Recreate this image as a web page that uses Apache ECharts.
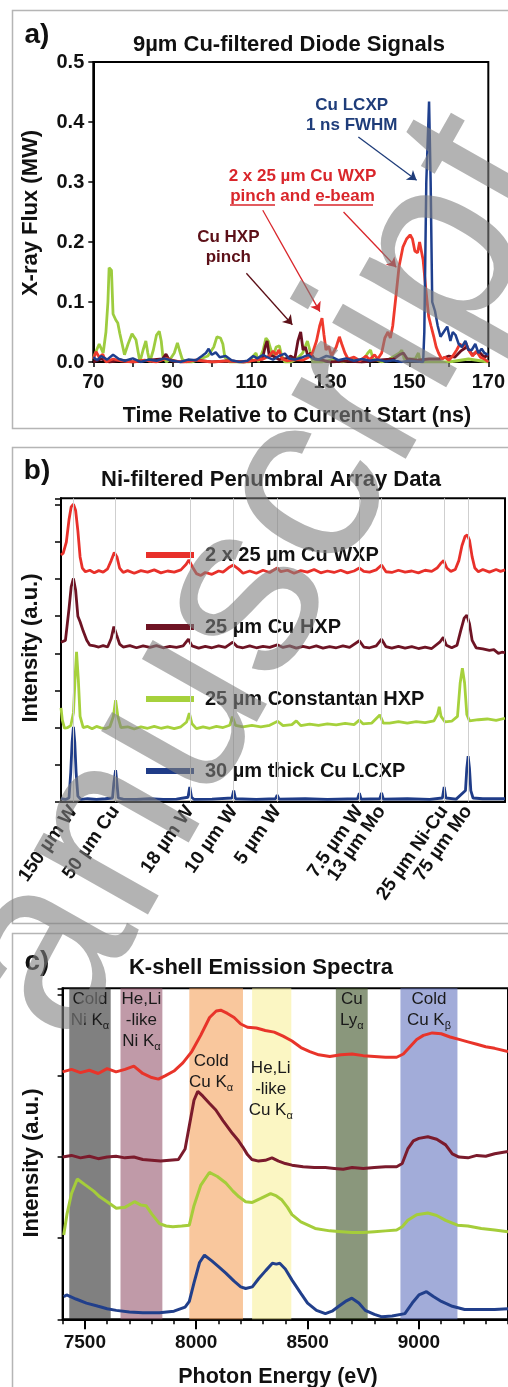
<!DOCTYPE html>
<html>
<head>
<meta charset="utf-8">
<script src="https://cdn.jsdelivr.net/npm/echarts@6/dist/echarts.min.js"></script>
<style>
  html, body { margin: 0; padding: 0; background: #fff; }
  #chart { width: 508px; height: 1387px; }
</style>
</head>
<body>
<div id="chart"></div>
<script>
// ---- panel a: diode signals, [time ns, flux MW]
var aGreen = [[70,0.005],[70.5,0.015],[71.5,0.03],[72.5,0.015],[73.2,0.05],[73.7,0.1],[74,0.157],[74.6,0.153],[75,0.08],[75.7,0.07],[76.2,0.065],[76.7,0.048],[77.3,0.03],[77.9,0.012],[78.8,0.03],[79.8,0.047],[80.8,0.037],[81.4,0.015],[81.8,0.0],[82.6,0.02],[83.3,0.035],[83.8,0.015],[84.3,0.0],[85.2,0.02],[86,0.045],[86.7,0.051],[87.2,0.035],[87.6,0.01],[88.5,0.0],[89.5,0.005],[90.5,0.015],[91.3,0.032],[91.8,0.02],[92.5,0.005],[93.5,0.0],[95,0.0],[97,0.005],[99,0.01],[100.5,0.025],[101.3,0.042],[102.2,0.04],[102.8,0.03],[103.3,0.008],[104.5,0.0],[106,0.0],[108,0.0],[109.5,0.0],[110.5,0.01],[111.2,0.015],[111.8,0.0],[113,0.02],[113.7,0.04],[114.3,0.035],[114.9,0.022],[115.5,0.01],[116.3,0.025],[117.1,0.027],[117.7,0.01],[118.5,0.0],[120,0.0],[121.5,0.005],[123,0.015],[124.2,0.035],[124.8,0.02],[125.5,0.0],[128,0.0],[131,0.005],[133,0.0],[136,0.005],[138,0.0],[139.5,0.015],[140.2,0.02],[140.8,0.005],[143,0.0],[145,0.005],[147.5,0.015],[148.1,0.02],[148.7,0.005],[151.5,0.005],[152.3,0.015],[152.8,0.0],[156,0.0],[160,0.0],[165,0.005],[170,0.0]];
var aDarkRed = [[70,0.0],[72,0.005],[74,0.0],[77,0.003],[80,0.0],[84,0.003],[87.5,0.005],[88.4,0.013],[89.2,0.004],[92,0.0],[96,0.003],[100,0.0],[104,0.002],[108,0.0],[111,0.003],[112.8,0.005],[113.5,0.025],[114,0.035],[114.5,0.012],[115.5,0.01],[117,0.004],[119,0.006],[120,0.01],[121,0.005],[121.8,0.035],[122.5,0.05],[123.1,0.02],[123.7,0.025],[124.3,0.01],[125,0.015],[126,0.005],[128,0.003],[130,0.0],[134,0.002],[138,0.0],[142,0.003],[146,0.005],[147.5,0.012],[148.5,0.015],[149.5,0.005],[152,0.003],[155,0.005],[158,0.005],[160,0.01],[161.5,0.008],[163,0.018],[164.5,0.025],[166,0.012],[167.5,0.018],[169,0.008],[170,0.012]];
var aRed = [[70,0.005],[70.7,0.017],[71.5,0.008],[72.4,0.013],[73.2,0.0],[75,0.005],[77,0.002],[80,0.0],[83,0.003],[86,0.0],[88.5,0.006],[90,0.002],[93,0.0],[96,0.003],[100,0.0],[104,0.002],[108,0.0],[111,0.003],[113,0.005],[114.5,0.01],[115.5,0.018],[116.3,0.012],[117,0.02],[117.8,0.005],[119,0.002],[121,0.004],[123,0.003],[124.5,0.008],[125.5,0.015],[126.5,0.035],[127.3,0.06],[127.9,0.073],[128.4,0.045],[128.9,0.02],[129.6,0.026],[130.3,0.01],[131.5,0.025],[132.3,0.042],[132.9,0.03],[133.7,0.015],[134.5,0.005],[136,0.008],[137.5,0.002],[139,0.01],[140,0.004],[141.2,0.012],[142,0.005],[143,0.015],[143.8,0.04],[144.6,0.05],[145.2,0.04],[145.8,0.06],[146.7,0.115],[147.4,0.159],[148.4,0.192],[149.3,0.205],[150.2,0.212],[150.8,0.205],[151.4,0.185],[152.1,0.182],[152.6,0.2],[153,0.203],[153.5,0.17],[154.2,0.12],[154.9,0.076],[155.5,0.06],[156.2,0.042],[156.8,0.025],[157.4,0.015],[158.2,0.005],[159,0.008],[160,0.003],[161,0.01],[162,0.02],[162.8,0.03],[163.5,0.025],[164.3,0.032],[165,0.02],[166,0.01],[167,0.018],[168,0.008],[169,0.005],[170,0.0]];
var aBlue = [[70,0.008],[71,0.003],[72,0.01],[73.5,0.004],[75,0.012],[76.5,0.005],[78,0.002],[80,0.006],[82,0.0],[84,0.004],[86,0.002],[88,0.006],[90,0.002],[92,0.0],[94,0.004],[96,0.003],[97.5,0.01],[98.5,0.015],[99.2,0.022],[100,0.012],[101,0.016],[102,0.008],[103.5,0.01],[105,0.003],[107,0.0],[109,0.002],[110.5,0.01],[111.5,0.006],[113,0.012],[114,0.008],[115.5,0.004],[117,0.01],[118.5,0.014],[119.5,0.006],[121,0.004],[123,0.008],[124.5,0.012],[125.5,0.006],[127,0.004],[129,0.01],[130.5,0.008],[132,0.003],[134,0.006],[136,0.002],[138,0.005],[140,0.002],[142,0.004],[144,0.001],[146,0.003],[148,0.0],[150,0.002],[152,0.001],[153.5,0.0],[153.8,0.05],[154.3,0.3],[155.0,0.434],[155.4,0.3],[155.8,0.1],[156.5,0.085],[157.2,0.06],[157.9,0.042],[158.7,0.05],[159.6,0.059],[160.4,0.035],[161,0.05],[161.7,0.045],[162.5,0.03],[163.3,0.025],[164.2,0.035],[165,0.02],[165.8,0.02],[166.7,0.03],[167.5,0.015],[168.3,0.022],[169,0.015],[170,0.012]];

// ---- panel b: penumbral array lineouts, [position, offset intensity]
var bNames = ['2 x 25 µm Cu WXP', '25 µm Cu HXP', '25 µm Constantan HXP', '30 µm thick Cu LCXP'];
var bFilterPos = [2.8, 12.3, 29.0, 38.9, 48.7, 67.2, 72.2, 86.3, 91.7];
var bFilterLabels = ['150 µm W', '50 µm Cu', '18 µm W', '10 µm W', '5 µm W', '7.5 µm W', '13 µm Mo', '25 µm Ni-Cu', '75 µm Mo'];
var bRed = [[0,6.65],[0.5,6.7],[1.2,7.0],[1.8,7.6],[2.3,7.95],[2.8,8.02],[3.3,7.85],[3.8,7.3],[4.3,6.6],[4.8,6.3],[5.5,6.2],[6.5,6.24],[7.5,6.17],[8.5,6.23],[9.5,6.19],[10.5,6.28],[11.3,6.5],[12.0,6.72],[12.6,6.6],[13.2,6.3],[14,6.18],[15,6.23],[16.5,6.16],[18,6.23],[19.5,6.19],[21,6.25],[22.5,6.17],[24,6.22],[25.5,6.19],[27,6.25],[28.2,6.4],[28.8,6.52],[29.5,6.35],[30.5,6.15],[31.5,6.1],[32.5,6.18],[34,6.13],[35.5,6.22],[36.5,6.19],[38,6.33],[38.8,6.38],[40,6.27],[41,6.16],[42.5,6.22],[44,6.16],[45.5,6.24],[47,6.18],[48.7,6.3],[49.5,6.2],[51,6.24],[52.5,6.16],[54,6.23],[55.5,6.19],[57,6.26],[58.5,6.17],[60,6.22],[61.5,6.18],[63,6.24],[64.5,6.17],[66,6.22],[67.2,6.3],[68.2,6.21],[69.5,6.19],[71,6.25],[72.2,6.38],[73.2,6.2],[74.5,6.18],[76,6.24],[77.5,6.19],[79,6.22],[80.5,6.17],[82,6.24],[83.5,6.21],[84.7,6.3],[85.5,6.42],[86.2,6.5],[86.9,6.3],[87.8,6.21],[88.8,6.26],[89.6,6.5],[90.3,6.9],[91,7.15],[91.5,7.19],[92,7.05],[92.6,6.6],[93.2,6.3],[94,6.2],[95,6.26],[96.5,6.19],[98,6.26],[99,6.21],[100,6.25]];
var bDarkRed = [[0,4.3],[1,4.35],[1.8,5.2],[2.3,5.8],[2.8,6.02],[3.3,5.7],[3.8,5.0],[4.3,4.85],[5,4.6],[5.8,4.35],[6.5,4.22],[7.5,4.2],[8.5,4.17],[9.5,4.21],[10.5,4.17],[11.3,4.4],[11.9,4.72],[12.5,4.5],[13.2,4.25],[14,4.17],[15.5,4.21],[17,4.15],[18.5,4.2],[20,4.16],[21.5,4.21],[23,4.15],[24.5,4.19],[26,4.16],[27.5,4.2],[28.7,4.38],[29.5,4.2],[31,4.14],[32.5,4.19],[34,4.15],[35.5,4.2],[37,4.16],[38.7,4.3],[39.7,4.18],[41,4.15],[42.5,4.2],[44,4.15],[45.5,4.19],[47,4.16],[48.7,4.23],[50,4.16],[51.5,4.2],[53,4.14],[54.5,4.19],[56,4.15],[57.5,4.2],[59,4.14],[60.5,4.18],[62,4.15],[63.5,4.2],[65,4.16],[67.2,4.34],[68.2,4.17],[69.5,4.15],[71,4.2],[72.2,4.38],[73.2,4.18],[74.5,4.14],[76,4.19],[77.5,4.14],[79,4.18],[80.5,4.13],[82,4.17],[83.5,4.13],[85.3,4.3],[86.1,4.43],[86.8,4.22],[88,4.15],[89.2,4.22],[90,4.6],[90.8,4.95],[91.4,5.03],[92,4.8],[92.6,4.35],[93.5,4.15],[95,4.12],[96.5,4.08],[97.5,4.1],[98.5,4.0],[99.3,4.03],[100,4.02]];
var bGreen = [[0,2.53],[0.3,2.2],[0.8,1.98],[1.5,2.0],[2.2,2.05],[2.8,2.4],[3.2,3.4],[3.5,4.04],[3.9,3.3],[4.3,2.3],[5,2.0],[6,2.03],[7,1.97],[8,2.03],[9,1.99],[10,1.97],[11,2.02],[11.8,2.3],[12.3,2.74],[12.8,2.3],[13.5,2.0],[15,2.02],[16.5,1.96],[18,2.02],[19.5,1.98],[21,2.03],[22.5,1.98],[24,2.02],[25.5,1.97],[27,2.02],[28.3,2.15],[28.9,2.39],[29.5,2.1],[30.5,1.97],[32,2.02],[33.5,1.98],[35,2.03],[36.5,2.0],[38,2.06],[38.6,2.29],[39.3,2.06],[41,2.02],[43,2.06],[45,2.02],[47,2.06],[48.8,2.17],[50,2.05],[52,2.08],[53,2.18],[54,2.05],[56,2.09],[58,2.06],[60,2.1],[62,2.07],[64,2.11],[66,2.08],[67.2,2.2],[68,2.1],[70,2.12],[71.8,2.34],[72.6,2.12],[74,2.12],[76,2.16],[78,2.12],[80,2.16],[82,2.13],[84,2.18],[84.8,2.35],[85.2,2.56],[85.6,2.3],[86.5,2.15],[88,2.17],[89.3,2.3],[89.9,3.2],[90.4,3.6],[90.9,3.2],[91.4,2.35],[92,2.18],[94,2.21],[96,2.23],[98,2.19],[100,2.25]];
var bBlue = [[0,0.08],[1,0.06],[1.8,0.1],[2.2,0.8],[2.5,1.6],[2.8,2.02],[3.1,1.6],[3.4,0.8],[3.8,0.15],[4.5,0.06],[6,0.08],[8,0.06],[10,0.08],[11.6,0.1],[11.9,0.5],[12.3,0.85],[12.6,0.5],[12.9,0.1],[14,0.07],[17,0.06],[20,0.08],[23,0.06],[26,0.07],[28.6,0.12],[29.0,0.4],[29.4,0.12],[30,0.06],[34,0.07],[38.5,0.1],[38.9,0.3],[39.3,0.08],[44,0.06],[48.3,0.08],[48.7,0.18],[49.1,0.07],[55,0.08],[60,0.06],[66.8,0.08],[67.2,0.23],[67.6,0.07],[71.8,0.08],[72.2,0.24],[72.6,0.07],[78,0.08],[83,0.06],[85.9,0.1],[86.3,0.4],[86.7,0.1],[89,0.07],[91.1,0.3],[91.4,0.9],[91.7,1.23],[92.0,0.9],[92.3,0.3],[92.8,0.1],[95,0.08],[100,0.08]];

// ---- panel c: K-shell spectra, [photon energy eV, offset intensity]
var cRed = [[7400,3.05],[7440,3.08],[7480,3.04],[7520,3.07],[7560,3.03],[7600,3.09],[7640,3.05],[7680,3.08],[7720,3.12],[7760,3.03],[7800,2.98],[7830,2.96],[7860,3.0],[7900,3.06],[7940,3.16],[7980,3.3],[8020,3.5],[8060,3.72],[8090,3.8],[8110,3.81],[8140,3.77],[8170,3.72],[8200,3.64],[8230,3.6],[8270,3.59],[8310,3.56],[8350,3.54],[8390,3.49],[8430,3.43],[8470,3.35],[8510,3.3],[8550,3.26],[8600,3.24],[8650,3.26],[8700,3.27],[8750,3.25],[8800,3.24],[8850,3.23],[8900,3.23],[8930,3.27],[8960,3.36],[8990,3.45],[9020,3.5],[9060,3.53],[9100,3.52],[9140,3.48],[9180,3.45],[9220,3.42],[9260,3.39],[9300,3.36],[9340,3.34],[9400,3.3]];
var cDarkRed = [[7400,2.0],[7440,2.02],[7480,1.99],[7520,2.01],[7560,1.98],[7600,2.0],[7640,2.01],[7680,1.99],[7720,2.0],[7760,1.97],[7800,1.96],[7840,1.95],[7880,1.96],[7920,1.97],[7950,2.1],[7970,2.4],[7990,2.7],[8007,2.81],[8030,2.75],[8060,2.66],[8088,2.58],[8120,2.45],[8163,2.29],[8190,2.2],[8210,2.12],[8230,2.03],[8250,1.97],[8280,1.95],[8310,1.96],[8340,1.99],[8370,1.95],[8400,1.92],[8430,1.9],[8480,1.88],[8530,1.87],[8580,1.87],[8620,1.86],[8660,1.85],[8700,1.87],[8750,1.86],[8800,1.87],[8850,1.88],[8900,1.88],[8925,1.92],[8950,2.1],[8975,2.2],[9000,2.23],[9040,2.25],[9080,2.22],[9120,2.15],[9150,2.04],[9180,2.0],[9220,1.99],[9260,2.02],[9300,2.01],[9340,2.04],[9400,2.07]];
var cGreen = [[7405,1.04],[7420,1.3],[7440,1.55],[7466,1.73],[7500,1.66],[7540,1.58],[7567,1.51],[7600,1.45],[7641,1.37],[7680,1.38],[7723,1.45],[7750,1.41],[7775,1.4],[7800,1.3],[7835,1.18],[7865,1.15],[7895,1.14],[7935,1.15],[7969,1.16],[7990,1.4],[8020,1.65],[8059,1.81],[8095,1.76],[8133,1.68],[8165,1.58],[8192,1.51],[8222,1.45],[8252,1.44],[8290,1.49],[8334,1.55],[8360,1.52],[8385,1.47],[8410,1.38],[8430,1.29],[8470,1.2],[8534,1.12],[8600,1.09],[8653,1.08],[8700,1.07],[8750,1.07],[8800,1.08],[8850,1.09],[8900,1.1],[8925,1.14],[8950,1.22],[8990,1.29],[9040,1.31],[9080,1.28],[9120,1.22],[9173,1.16],[9220,1.15],[9280,1.12],[9340,1.1],[9400,1.08]];
var cBlue = [[7405,0.28],[7418,0.3],[7460,0.25],[7507,0.2],[7560,0.16],[7600,0.13],[7641,0.11],[7700,0.09],[7760,0.08],[7835,0.08],[7900,0.1],[7950,0.15],[7969,0.22],[7990,0.45],[8015,0.7],[8037,0.79],[8070,0.72],[8100,0.65],[8133,0.57],[8170,0.47],[8200,0.4],[8222,0.38],[8252,0.4],[8280,0.5],[8312,0.6],[8342,0.69],[8360,0.68],[8375,0.69],[8400,0.62],[8431,0.48],[8470,0.32],[8500,0.2],[8540,0.11],[8580,0.07],[8610,0.1],[8640,0.16],[8670,0.22],[8699,0.26],[8730,0.2],[8759,0.11],[8800,0.06],[8834,0.03],[8880,0.04],[8937,0.07],[8970,0.2],[9000,0.3],[9034,0.34],[9065,0.28],[9101,0.22],[9150,0.16],[9205,0.12],[9280,0.12],[9340,0.12],[9400,0.13]];

// emission bands [from eV, to eV, label]
var cBands = [
  [7430, 7616, 'Cold\nNi K{s|α}'],
  [7660, 7848, 'He,Li\n-like\nNi K{s|α}'],
  [7969, 8210, 'Cold\nCu K{s|α}'],
  [8251, 8427, 'He,Li\n-like\nCu K{s|α}'],
  [8627, 8770, 'Cu\nLy{s|α}'],
  [8917, 9173, 'Cold\nCu K{s|β}']
];
var cBandColors = ['rgba(43,43,43,0.6)', 'rgba(150,87,110,0.6)', 'rgba(245,162,92,0.6)', 'rgba(248,240,155,0.6)', 'rgba(60,82,37,0.6)', 'rgba(100,117,192,0.6)'];
var cBandLabelDrop = [1, 1, 63, 70, 1, 1];
var cBandLabelShift = [0, 0, -5, -1, 0, 0];

var FONT = 'Liberation Sans, Arial, sans-serif';
var chart = echarts.init(document.getElementById('chart'));

function lineSeries(name, data, color, xi, width, z) {
  return {
    name: name, type: 'line', data: data, xAxisIndex: xi, yAxisIndex: xi,
    showSymbol: false, symbol: 'none', z: z || 2,
    lineStyle: { color: color, width: width || 2.8 },
    itemStyle: { color: color },
    emphasis: { disabled: true }
  };
}

function valueAxis(opt) {
  return Object.assign({
    type: 'value',
    axisLine: { lineStyle: { color: '#000', width: 2 } },
    axisTick: { inside: false, length: 5, lineStyle: { color: '#000', width: 1.5 } },
    axisLabel: { color: '#111', fontFamily: FONT, fontWeight: 'bold', fontSize: 20 },
    splitLine: { show: false }
  }, opt);
}

var arrow = function (from, to, color) {
  return [{ coord: from, lineStyle: { color: color, width: 1.3, type: 'solid' } }, { coord: to }];
};

var series = [
  lineSeries('a green', aGreen, '#9dcc3f', 0),
  lineSeries('a darkred', aDarkRed, '#6b1020', 0),
  lineSeries('a red', aRed, '#ef3a2d', 0),
  lineSeries('a blue', aBlue, '#1e3f8e', 0, 2.5)
];
series[0].markLine = {
  silent: true, symbol: ['none', 'arrow'], symbolSize: 9, animation: false,
  label: { show: false },
  data: [
    arrow([137.1, 0.375], [151.85, 0.303], '#1f3d7a'),
    arrow([112.9, 0.253], [127.35, 0.084], '#d9262b'),
    arrow([133.35, 0.25], [146.7, 0.158], '#d9262b'),
    arrow([108.75, 0.148], [120.4, 0.062], '#5c1018')
  ]
};

series.push({
  name: 'b grid', type: 'line', data: [], xAxisIndex: 1, yAxisIndex: 1, z: 1,
  markLine: {
    silent: true, symbol: 'none', animation: false, label: { show: false },
    lineStyle: { color: '#cfcfcf', width: 1, type: 'solid' },
    data: bFilterPos.map(function (v) { return { xAxis: v }; })
  }
});
series.push(lineSeries(bNames[0], bRed, '#e8302a', 1, 2.8));
series.push(lineSeries(bNames[1], bDarkRed, '#6e1424', 1, 2.8));
series.push(lineSeries(bNames[2], bGreen, '#a6d13c', 1, 2.8));
series.push(lineSeries(bNames[3], bBlue, '#1f3c88', 1, 2.8));

series.push(lineSeries('c red', cRed, '#e8342a', 2, 3));
series.push(lineSeries('c darkred', cDarkRed, '#7b1b2c', 2, 3));
series.push(lineSeries('c green', cGreen, '#a5cd3a', 2, 3));
series.push(lineSeries('c blue', cBlue, '#213f8b', 2, 3));
series.push({
  name: 'c bands', type: 'line', data: [], xAxisIndex: 2, yAxisIndex: 2, z: 5,
  markArea: {
    silent: true, animation: false,
    data: cBands.map(function (b, i) {
      return [{
        xAxis: b[0],
        itemStyle: { color: cBandColors[i] },
        label: {
          show: true, position: 'insideTop', distance: cBandLabelDrop[i], offset: [cBandLabelShift[i], 0],
          formatter: b[2], color: '#1a1a1a', fontFamily: FONT, fontSize: 17, lineHeight: 21, align: 'center',
          rich: { s: { fontSize: 11, lineHeight: 21, verticalAlign: 'bottom', fontFamily: FONT, color: '#1a1a1a' } }
        }
      }, { xAxis: b[1] }];
    })
  }
});

function txt(x, y, text, size, opt) {
  return Object.assign({
    type: 'text', x: x, y: y, z: 100,
    style: { text: text, font: 'bold ' + size + 'px ' + FONT, fill: '#111', textAlign: 'center', textVerticalAlign: 'middle' }
  }, opt || {});
}
function vtxt(x, y, text, size) {
  return txt(x, y, text, size, { rotation: Math.PI / 2 });
}
function panelBox(y, h) {
  return { type: 'rect', shape: { x: 12.5, y: y, width: 520, height: h }, z: 100, style: { fill: 'none', stroke: '#b5b5b5', lineWidth: 1.5 } };
}

var graphics = [
  panelBox(10.5, 418), panelBox(447.5, 476), panelBox(933.5, 480),
  txt(37, 35, 'a)', 28), txt(37, 471, 'b)', 28), txt(37, 962, 'c)', 28),
  txt(289, 45, '9µm Cu-filtered Diode Signals', 22),
  txt(271, 480, 'Ni-filtered Penumbral Array Data', 22),
  txt(261, 968, 'K-shell Emission Spectra', 22),
  vtxt(31, 213, 'X-ray Flux (MW)', 22),
  txt(297, 416, 'Time Relative to Current Start (ns)', 21.5),
  vtxt(31, 648, 'Intensity (a.u.)', 22),
  vtxt(32, 1163, 'Intensity (a.u.)', 22),
  txt(278, 1377, 'Photon Energy (eV)', 21.5),
  // panel a annotations
  { type: 'text', x: 351.7, y: 115, z: 100, style: { text: 'Cu LCXP\n1 ns FWHM', font: 'bold 17px ' + FONT, fill: '#1f3d7a', textAlign: 'center', textVerticalAlign: 'middle', lineHeight: 20 } },
  { type: 'text', x: 302.5, y: 186.5, z: 100, style: { text: '2 x 25 µm Cu WXP\npinch and e-beam', font: 'bold 17px ' + FONT, fill: '#d9262b', textAlign: 'center', textVerticalAlign: 'middle', lineHeight: 19.5 } },
  { type: 'line', z: 100, shape: { x1: 230, y1: 205, x2: 275, y2: 205 }, style: { stroke: '#d9262b', lineWidth: 1.5 } },
  { type: 'line', z: 100, shape: { x1: 314, y1: 205, x2: 373, y2: 205 }, style: { stroke: '#d9262b', lineWidth: 1.5 } },
  { type: 'text', x: 228.3, y: 247.3, z: 100, style: { text: 'Cu HXP\npinch', font: 'bold 17px ' + FONT, fill: '#5c1018', textAlign: 'center', textVerticalAlign: 'middle', lineHeight: 20 } },
  // diagonal manuscript watermark over the whole figure (its first letter falls off the page)
  { type: 'text', x: 12, y: 1016, rotation: 1.056, z: 200,
    style: { text: 'anuscript', font: '248px ' + FONT, fill: 'rgba(128,128,128,0.6)', textAlign: 'left', textVerticalAlign: 'middle' } }
];

var option = {
  animation: false,
  backgroundColor: '#fff',
  grid: [
    { left: 93.3, top: 62, width: 400, height: 300, show: true, borderColor: '#000', borderWidth: 2 },
    { left: 61, top: 498.3, width: 444, height: 303.4, show: true, borderColor: '#000', borderWidth: 2 },
    { left: 62.6, top: 988.3, width: 447.6, height: 331, show: true, borderColor: '#000', borderWidth: 2 }
  ],
  xAxis: [
    valueAxis({ gridIndex: 0, min: 70, max: 170, interval: 10,
      axisLabel: { color: '#111', fontFamily: FONT, fontWeight: 'bold', fontSize: 20, margin: 10,
        formatter: function (v) { return (v - 70) % 20 === 0 ? String(v) : ''; } } }),
    valueAxis({ gridIndex: 1, min: 0, max: 100,
      axisTick: { show: false },
      axisLabel: { color: '#111', fontFamily: FONT, fontWeight: 'bold', fontSize: 19, rotate: 55, margin: 6,
        hideOverlap: false, customValues: bFilterPos,
        formatter: function (v) { var i = bFilterPos.indexOf(v); return i >= 0 ? bFilterLabels[i] : ''; } } }),
    valueAxis({ gridIndex: 2, min: 7400, max: 9400, interval: 100,
      axisTick: { inside: false, length: 5, lineStyle: { color: '#000', width: 1.5 } },
      axisLabel: { color: '#111', fontFamily: FONT, fontWeight: 'bold', fontSize: 19, margin: 14,
        customValues: [7500, 8000, 8500, 9000],
        formatter: function (v) { return String(v); } } }),
    valueAxis({ gridIndex: 2, min: 7400, max: 9400, position: 'bottom',
      axisLine: { show: false },
      axisTick: { inside: false, length: 10, customValues: [7500, 8000, 8500, 9000], lineStyle: { color: '#000', width: 2 } },
      axisLabel: { show: false } })
  ],
  yAxis: [
    valueAxis({ gridIndex: 0, min: 0, max: 0.5, interval: 0.1,
      axisLabel: { color: '#111', fontFamily: FONT, fontWeight: 'bold', fontSize: 20, margin: 9,
        formatter: function (v) { return v.toFixed(1); } } }),
    valueAxis({ gridIndex: 1, min: 0, max: 8.18, interval: 1,
      axisTick: { inside: false, length: 6, lineStyle: { color: '#000', width: 1.5 } },
      axisLabel: { show: false } }),
    valueAxis({ gridIndex: 2, min: 0, max: 4.08, interval: 1,
      axisTick: { inside: false, length: 5, lineStyle: { color: '#000', width: 1.5 } },
      axisLabel: { show: false } })
  ],
  legend: {
    data: bNames, orient: 'vertical', left: 141, top: 540,
    icon: 'rect', itemWidth: 48, itemHeight: 6, itemGap: 52, selectedMode: false,
    textStyle: { color: '#111', fontFamily: FONT, fontWeight: 'bold', fontSize: 20, padding: [0, 0, 0, 6] }
  },
  series: series,
  graphic: graphics
};

chart.setOption(option);
</script>
</body>
</html>
